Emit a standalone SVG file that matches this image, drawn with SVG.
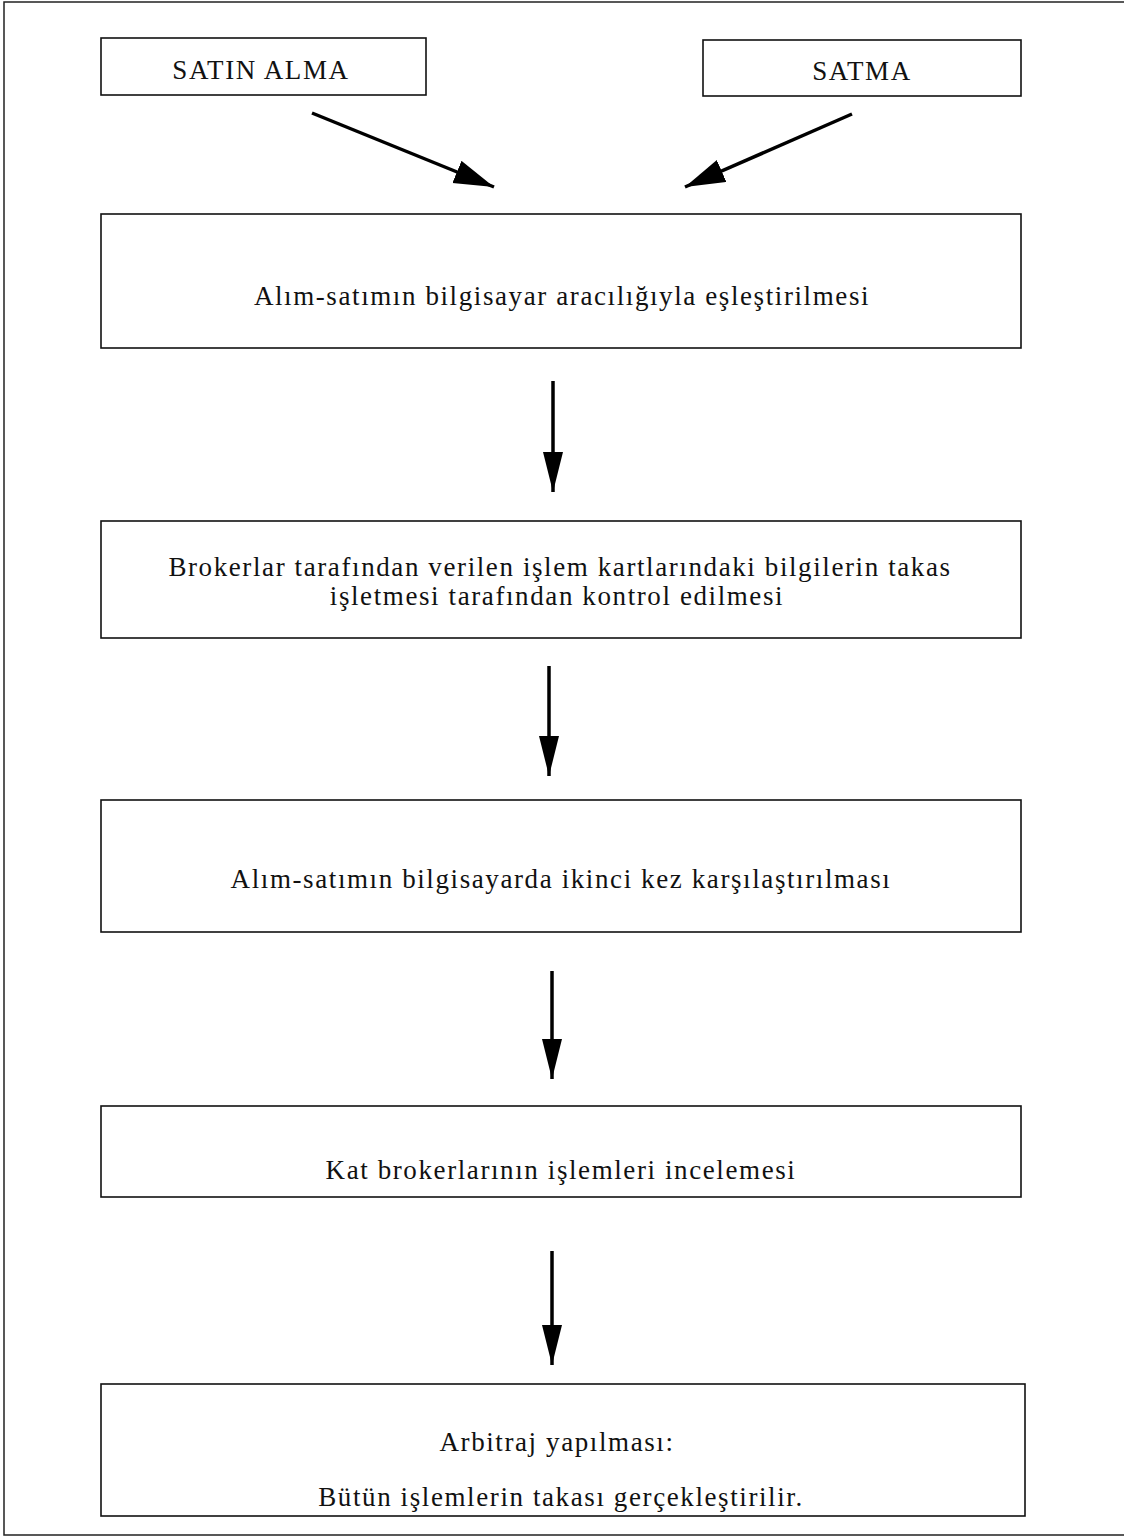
<svg xmlns="http://www.w3.org/2000/svg" width="1124" height="1537" viewBox="0 0 1124 1537">
<style>
.box{fill:#fff;stroke:#111;stroke-width:1.6}
.frame{fill:none;stroke:#222;stroke-width:1.5}
.t{font-family:"Liberation Serif","Times New Roman",serif;font-size:27px;letter-spacing:1.6px;fill:#111;text-anchor:middle}
.c{stroke:#000;stroke-width:3.5;fill:none;marker-end:url(#ah)}
.d{stroke:#000;stroke-width:3.5;fill:none;marker-end:url(#ahd)}
</style>
<defs>
<marker id="ah" markerUnits="userSpaceOnUse" markerWidth="42" markerHeight="22" refX="40" refY="10" orient="auto">
<path d="M0,0 L40,10 L0,20 Z" fill="#000"/>
</marker>
<marker id="ahd" markerUnits="userSpaceOnUse" markerWidth="42" markerHeight="26" refX="40" refY="12" orient="auto">
<path d="M0,0 L40,12 L0,24 Z" fill="#000"/>
</marker>
</defs>
<rect width="1124" height="1537" fill="#fff"/>
<g id="frame">
<path class="frame" d="M1124,2 L4,2 L4,1535 L1124,1535"/>
</g>
<g id="n-satin-alma">
<rect class="box" x="101" y="38" width="325" height="57"/>
<text class="t" x="261" y="79">SATIN ALMA</text>
</g>
<g id="n-satma">
<rect class="box" x="703" y="40" width="318" height="56"/>
<text class="t" x="862" y="80">SATMA</text>
</g>
<g id="n1">
<rect class="box" x="101" y="214" width="920" height="134"/>
<text class="t" x="562" y="305">Alım-satımın bilgisayar aracılığıyla eşleştirilmesi</text>
</g>
<g id="n2">
<rect class="box" x="101" y="521" width="920" height="117"/>
<text class="t" x="560" y="576">Brokerlar tarafından verilen işlem kartlarındaki bilgilerin takas</text>
<text class="t" x="557" y="605">işletmesi tarafından kontrol edilmesi</text>
</g>
<g id="n3">
<rect class="box" x="101" y="800" width="920" height="132"/>
<text class="t" x="561" y="888">Alım-satımın bilgisayarda ikinci kez karşılaştırılması</text>
</g>
<g id="n4">
<rect class="box" x="101" y="1106" width="920" height="91"/>
<text class="t" x="561" y="1179">Kat brokerlarının işlemleri incelemesi</text>
</g>
<g id="n5">
<rect class="box" x="101" y="1384" width="924" height="132"/>
<text class="t" x="557" y="1451">Arbitraj yapılması:</text>
<text class="t" x="561" y="1506">Bütün işlemlerin takası gerçekleştirilir.</text>
</g>
<g id="connectors">
<line class="d" x1="312" y1="113" x2="494" y2="187"/>
<line class="d" x1="852" y1="114" x2="685" y2="187"/>
<line class="c" x1="553" y1="381" x2="553" y2="492"/>
<line class="c" x1="549" y1="666" x2="549" y2="776"/>
<line class="c" x1="552" y1="971" x2="552" y2="1079"/>
<line class="c" x1="552" y1="1251" x2="552" y2="1365"/>
</g>
</svg>
